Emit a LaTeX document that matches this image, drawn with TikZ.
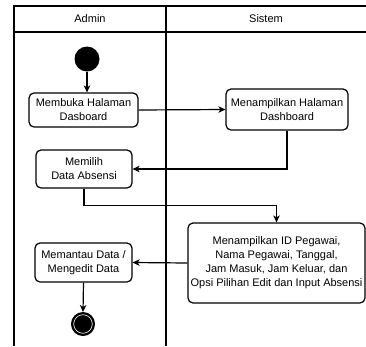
\documentclass[tikz,border=0pt]{standalone}
\usepackage{fontspec}
\setmainfont{Liberation Sans}
\usetikzlibrary{arrows.meta}
\begin{document}
\begin{tikzpicture}[x=1pt,y=-1pt,
  lane/.style={line width=1.3pt},
  actbox/.style={draw, line width=1.2pt, rounded corners=5pt, align=center, font=\fontsize{11pt}{14pt}\selectfont, inner sep=0pt},
  flow/.style={line width=1.2pt, -{Stealth[length=7pt,width=6.5pt,inset=2pt]}},
  lbl/.style={font=\fontsize{11pt}{14pt}\selectfont}]
\useasboundingbox (0,0) rectangle (366,346);
% swimlanes
\draw[lane] (14,346) -- (14,6) -- (366,6);
\draw[lane] (14,32) -- (366,32);
\draw[lane] (166,6) -- (166,346);
\node[lbl] (hA) at (90,19) {Admin};
\node[lbl] (hS) at (266,19) {Sistem};
% nodes
\node[circle, fill=black, minimum size=25pt, inner sep=0pt] (start) at (87,59) {};
\node[actbox, minimum width=109pt, minimum height=34pt] (b1) at (83.5,110) {Membuka Halaman\\Dasboard};
\node[actbox, minimum width=122pt, minimum height=41pt] (b2) at (287,109.5) {Menampilkan Halaman\\Dashboard};
\node[actbox, minimum width=96pt, minimum height=38pt] (b3) at (84,169) {Memilih\\Data Absensi};
\node[actbox, minimum width=177pt, minimum height=80pt] (b4) at (276.5,263) {Menampilkan ID Pegawai,\\Nama Pegawai, Tanggal,\\Jam Masuk, Jam Keluar, dan\\Opsi Pilihan Edit dan Input Absensi};
\node[actbox, minimum width=97pt, minimum height=39pt] (b5) at (83.5,262.5) {Memantau Data /\\Mengedit Data};
\node[circle, fill=black, draw=black, line width=1pt, minimum size=23pt, inner sep=0pt] (end) at (83,324) {};
\draw[white, line width=0.6pt] (end.center) circle (9.3pt);
% connectors
\draw[flow] (start) -- (start |- b1.north);
\draw[flow] (b1.east) -- (b2.west);
\draw[flow] (b2.south) |- (b3.east);
\draw[flow] (b3.south) -- ++(0,17) -| (b4.north);
\draw[flow] (b4.west) -- (b5.east);
\draw[flow] (b5.south) -- (end.north);
\end{tikzpicture}
\end{document}
